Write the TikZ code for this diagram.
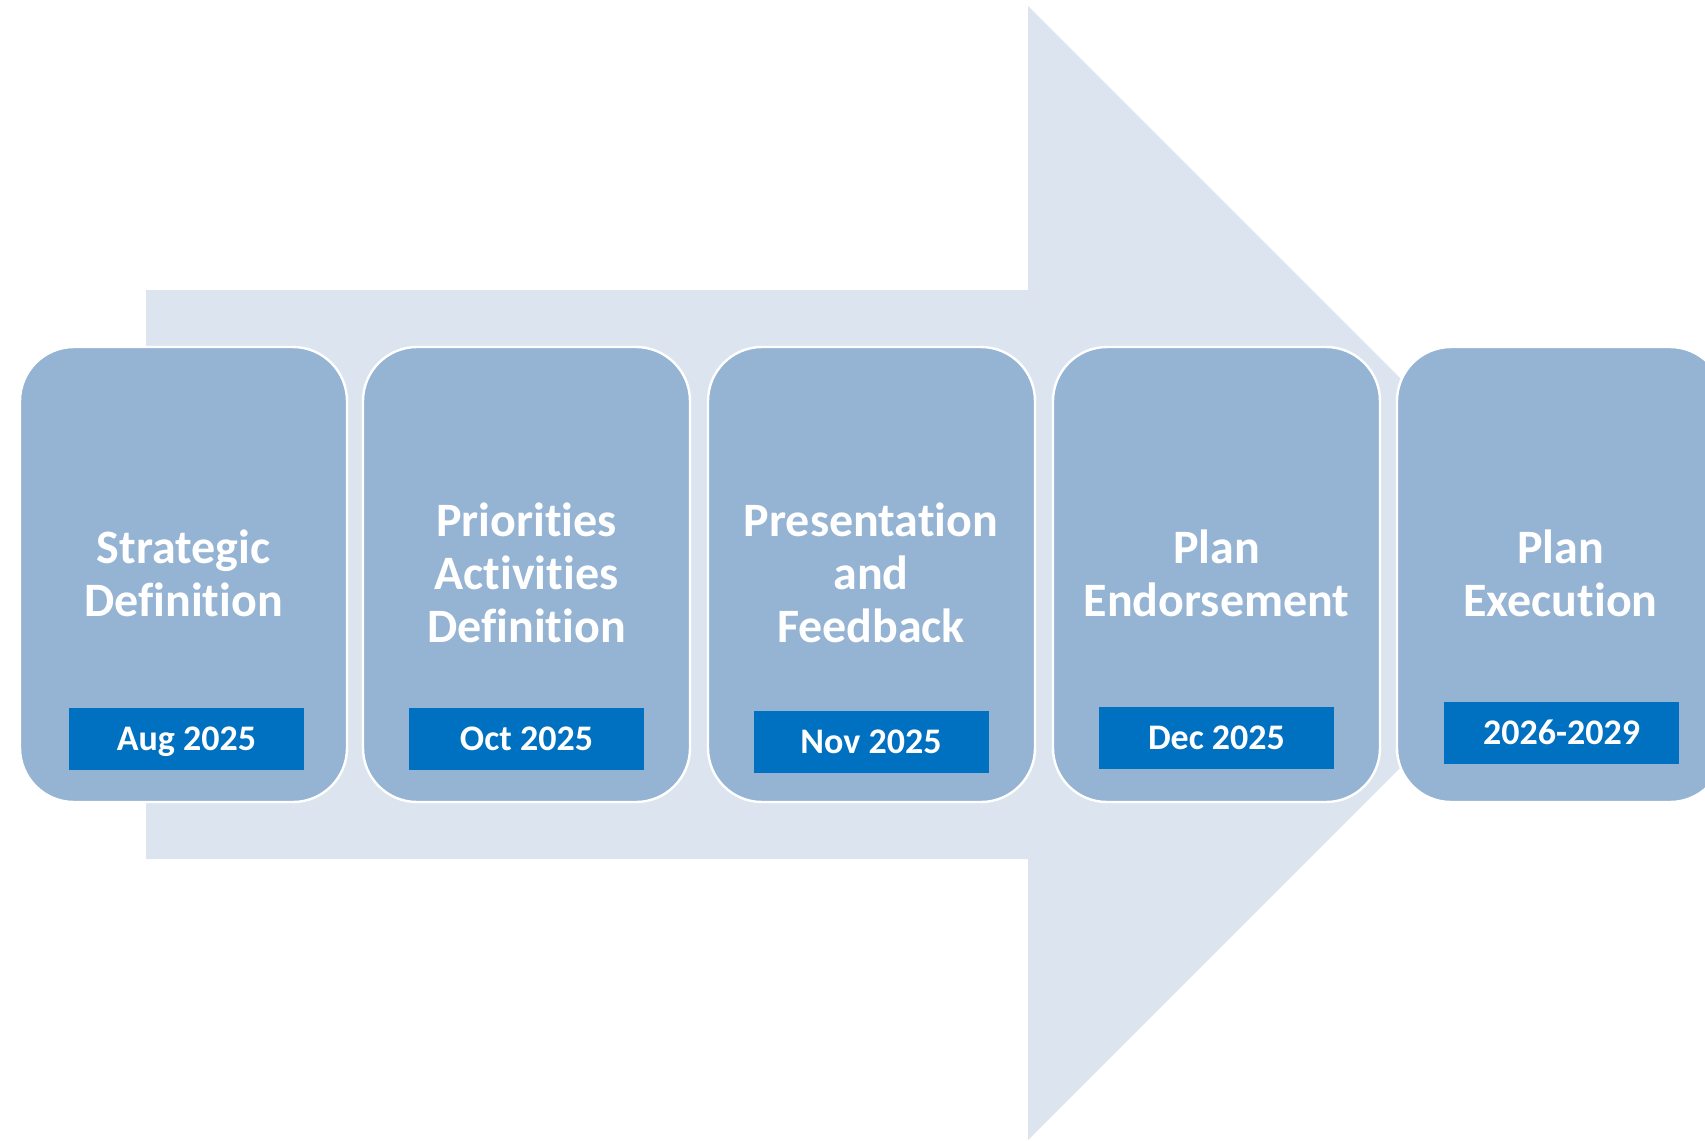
\documentclass[tikz,border=0pt]{standalone}
\usepackage{fontspec}
\setmainfont{Carlito}[Ligatures={NoCommon}, RawFeature={-liga;-clig;-dlig}]
\definecolor{arrowbg}{RGB}{220,229,239}
\definecolor{stagebg}{RGB}{149,179,211}
\definecolor{datebg}{RGB}{0,112,192}
\tikzset{
  stage/.style={fill=stagebg, draw=white, line width=1.2pt, rounded corners=27pt},
  title/.style={text=white, align=center, font=\fontsize{24}{26.5}\selectfont\bfseries},
  date/.style={fill=datebg, text=white, minimum width=117.5pt, minimum height=31pt,
    inner sep=0pt, text height=13pt, text depth=1.3pt,
    font=\fontsize{18}{20}\selectfont\bfseries}
}
\begin{document}
\begin{tikzpicture}[x=0.5pt,y=-0.5pt]
  \useasboundingbox (0,0) rectangle (1705,1141);
  \clip (0,0) rectangle (1705,1141);
  \fill[arrowbg] (146,290) -- (1028,290) -- (1028,6) -- (1595,573)
    -- (1028,1140) -- (1028,859) -- (146,859) -- cycle; %big arrow
  \draw[stage] (20,347) rectangle (347,802); %strategic
  \draw[stage] (363,347) rectangle (690,802); %priorities
  \draw[stage] (708,347) rectangle (1035,802); %presentation
  \draw[stage] (1053,347) rectangle (1380,802); %endorsement
  \draw[stage] (1397,347) rectangle (1724,802); %execution
  \node[title] (t1) at (183.5,573) {Strategic\\Definition};
  \node[title] (t2) at (526.5,573) {Priorities\\Activities\\Definition};
  \node[title] (t3) at (871,573) {Presentation\\and\\Feedback};
  \node[title] (t4) at (1216.5,573) {Plan\\Endorsement};
  \node[title] (t5) at (1560.5,573) {Plan\\Execution};
  \node[date] (d1) at (186.5,739) {Aug 2025};
  \node[date] (d2) at (526.5,738.5) {Oct 2025};
  \node[date] (d3) at (871,741.5) {Nov 2025};
  \node[date] (d4) at (1216.5,738) {Dec 2025};
  \node[date] (d5) at (1561.5,733) {2026-2029};
\end{tikzpicture}
\end{document}
